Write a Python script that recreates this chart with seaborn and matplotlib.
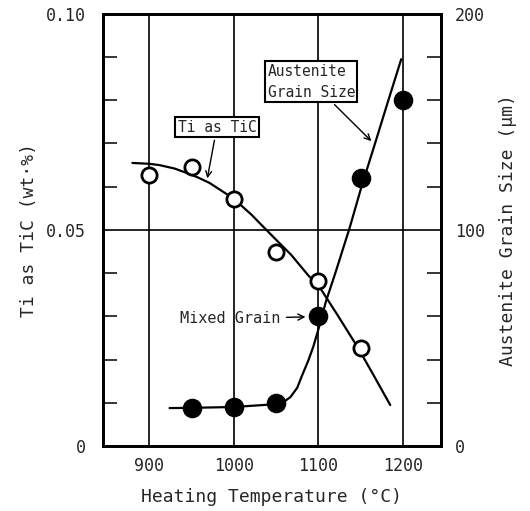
import matplotlib
matplotlib.use("Agg")
import matplotlib.pyplot as plt
import seaborn as sns
import pandas as pd

# puntos medidos
temp_ti = [900, 950, 1000, 1050, 1100, 1150]
ti_tic = [0.0627, 0.0646, 0.0572, 0.0449, 0.0382, 0.0227]
temp_gs = [950, 1000, 1050, 1100, 1150, 1200]
grain = [17.6, 18.1, 19.9, 60.3, 124.0, 160.0]

# curvas dibujadas a mano
curve_ti_x = [880, 900, 912, 930, 944, 958, 971, 986, 1000, 1021, 1041, 1068, 1088,
              1102, 1124, 1147, 1165, 1185]
curve_ti_y = [0.0655, 0.0653, 0.0650, 0.0642, 0.0632, 0.0621, 0.0609, 0.0590, 0.0572,
              0.0535, 0.0495, 0.0442, 0.0395, 0.0366, 0.0299, 0.0227, 0.0165, 0.0095]
curve_gs_x = [924, 950, 1000, 1050, 1057, 1061, 1067, 1075, 1080, 1088, 1094, 1100,
              1109, 1120, 1137, 1151, 1167, 1182, 1198]
curve_gs_y = [17.6, 17.7, 18.1, 19.4, 20.0, 21.0, 22.7, 27.0, 32.0, 39.5, 46.0, 54.0,
              67.0, 80.0, 101.0, 120.0, 140.0, 159.0, 179.0]

x_ticks = [900, 1000, 1100, 1200]
left_ticks = [0, 0.05, 0.10]
left_labels = ["0", "0.05", "0.10"]
right_ticks = [0, 100, 200]

sns.set_style("white")
plt.rcParams["font.family"] = ["DejaVu Sans Mono"]

fig = plt.figure(figsize=(5.3, 5.11), dpi=100)
ax = fig.add_axes([0.194, 0.127, 0.638, 0.846])
ax2 = ax.twinx()

df_ti = pd.DataFrame({"t": temp_ti, "v": ti_tic})
df_gs = pd.DataFrame({"t": temp_gs, "v": grain})
df_cti = pd.DataFrame({"t": curve_ti_x, "v": curve_ti_y})
df_cgs = pd.DataFrame({"t": curve_gs_x, "v": curve_gs_y})

sns.lineplot(data=df_cti, x="t", y="v", ax=ax, color="black", lw=1.6, sort=False, zorder=3)
sns.scatterplot(data=df_ti, x="t", y="v", ax=ax, s=120, facecolor="white",
                edgecolor="black", linewidth=2, zorder=4)
sns.lineplot(data=df_cgs, x="t", y="v", ax=ax2, color="black", lw=1.6, sort=False, zorder=3)
sns.scatterplot(data=df_gs, x="t", y="v", ax=ax2, s=170, color="black",
                edgecolor="black", zorder=4)

ax.set_xlim(845, 1245)
ax.set_ylim(0, 0.10)
ax2.set_ylim(0, 200)

for x in x_ticks:
    ax.axvline(x, color="black", lw=1.2, zorder=1)
ax.axhline(0.05, color="black", lw=1.2, zorder=1)

ax.set_xticks(x_ticks)
ax.set_xticklabels([str(x) for x in x_ticks], fontsize=12)
ax.set_yticks(left_ticks)
ax.set_yticklabels(left_labels, fontsize=12)
ax.set_yticks([0.01, 0.02, 0.03, 0.04, 0.06, 0.07, 0.08, 0.09], minor=True)
ax.tick_params(axis="x", length=0, pad=8)
ax.tick_params(axis="y", which="major", length=0, pad=12)
ax.tick_params(axis="y", which="minor", direction="in", length=10, width=1.3,
               left=True, right=True)
ax2.set_yticks(right_ticks)
ax2.set_yticklabels([str(v) for v in right_ticks], fontsize=12)
ax2.tick_params(axis="y", length=0, pad=10)

for a in (ax, ax2):
    for sp in a.spines.values():
        sp.set_linewidth(2)
        sp.set_color("black")

ax.set_xlabel("Heating Temperature (°C)", fontsize=13, labelpad=9)
ax.set_ylabel("Ti as TiC (wt·%)", fontsize=13, labelpad=6)
ax2.set_ylabel("Austenite Grain Size (μm)", fontsize=13, labelpad=10)

box = dict(boxstyle="square,pad=0.15", fc="white", ec="black", lw=1.5)
ax.annotate("Ti as TiC", xy=(968, 0.0613), xytext=(980, 0.0738), fontsize=10.5,
            ha="center", va="center", bbox=box, zorder=6,
            arrowprops=dict(arrowstyle="->", color="black", lw=1))
ax.annotate("Austenite\nGrain Size", xy=(1165, 0.0701), xytext=(1040, 0.0843), fontsize=10.5,
            ha="left", va="center", bbox=box, zorder=6, linespacing=1.5,
            arrowprops=dict(arrowstyle="->", color="black", lw=1))
ax.annotate("Mixed Grain", xy=(1088, 0.0299), xytext=(1055, 0.0295), fontsize=11,
            ha="right", va="center", zorder=6,
            arrowprops=dict(arrowstyle="->", color="black", lw=1))

fig.savefig("out.png", dpi=100)
